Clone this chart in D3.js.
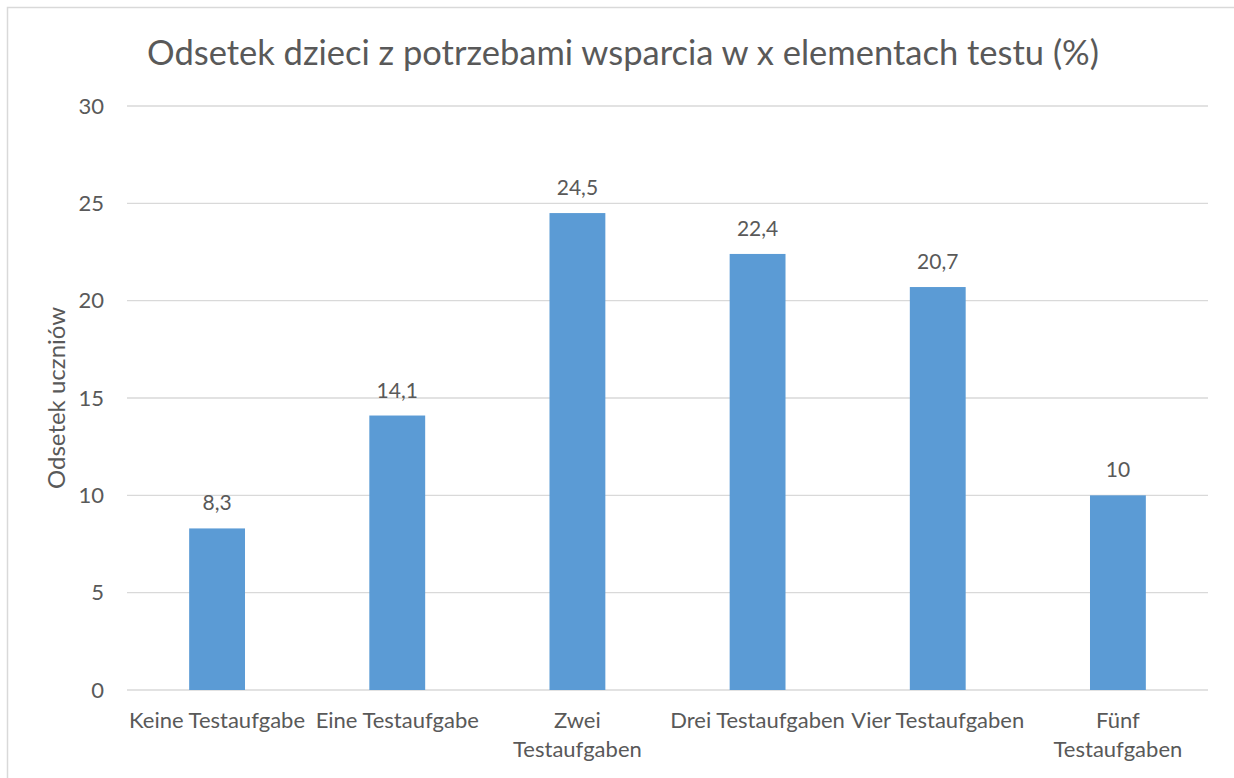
<!DOCTYPE html>
<html>
<head>
<meta charset="utf-8">
<script src="https://cdn.jsdelivr.net/npm/d3@7"></script>
<style>
  html, body { margin: 0; padding: 0; background: #fff; }
  text { font-family: Lato, "Open Sans", sans-serif; fill: #595959; }
</style>
</head>
<body>
<div id="vis"></div>
<script>
// data
const categories = ["Keine Testaufgabe", "Eine Testaufgabe", "Zwei Testaufgaben", "Drei Testaufgaben", "Vier Testaufgaben", "Fünf Testaufgaben"];
const labelLines = [["Keine Testaufgabe"], ["Eine Testaufgabe"], ["Zwei", "Testaufgaben"], ["Drei Testaufgaben"], ["Vier Testaufgaben"], ["Fünf", "Testaufgaben"]];
const values = [8.3, 14.1, 24.5, 22.4, 20.7, 10];
const valueLabels = ["8,3", "14,1", "24,5", "22,4", "20,7", "10"];
const yTicks = [0, 5, 10, 15, 20, 25, 30];

const title = "Odsetek dzieci z potrzebami wsparcia w x elementach testu (%)";
const yTitle = "Odsetek uczniów";

const width = 1234, height = 778;
const margin = { top: 106, right: 26, bottom: 88, left: 127 };

const svg = d3.select("#vis")
  .append("svg")
    .attr("width", width)
    .attr("height", height);

// chart border (only top and left visible in the crop)
svg.append("rect")
  .attr("x", 7.5).attr("y", 7.5)
  .attr("width", 1260).attr("height", 800)
  .attr("fill", "none")
  .attr("stroke", "#d9d9d9")
  .attr("stroke-width", 1.5);

const x = d3.scaleBand()
  .domain(categories)
  .range([margin.left, width - margin.right])
  .paddingInner(0.69)
  .paddingOuter(0.345);

const y = d3.scaleLinear()
  .domain([0, 30])
  .range([height - margin.bottom, margin.top]);

// gridlines
svg.append("g")
  .selectAll("line")
  .data(yTicks)
  .join("line")
    .attr("x1", margin.left)
    .attr("x2", width - margin.right)
    .attr("y1", d => y(d))
    .attr("y2", d => y(d))
    .attr("stroke", "#d9d9d9")
    .attr("stroke-width", 1.3);

// y tick labels
const yAxis = d3.axisLeft(y).tickValues(yTicks).tickSize(0).tickPadding(23);
const yg = svg.append("g")
  .attr("transform", `translate(${margin.left},0)`)
  .call(yAxis);
yg.select(".domain").remove();
yg.selectAll("text")
  .style("font-family", "Lato, sans-serif")
  .style("font-size", "22px")
  .attr("fill", "#595959");

// bars
svg.append("g")
  .selectAll("rect")
  .data(values)
  .join("rect")
    .attr("x", (d, i) => x(categories[i]))
    .attr("y", d => y(d))
    .attr("width", x.bandwidth())
    .attr("height", d => y(0) - y(d))
    .attr("fill", "#5b9bd5");

// value labels
svg.append("g")
  .selectAll("text")
  .data(values)
  .join("text")
    .attr("x", (d, i) => x(categories[i]) + x.bandwidth() / 2)
    .attr("y", d => y(d) - 18)
    .attr("text-anchor", "middle")
    .style("font-size", "21px")
    .text((d, i) => valueLabels[i]);

// category labels
const xg = svg.append("g")
  .selectAll("text")
  .data(labelLines)
  .join("text")
    .attr("x", (d, i) => x(categories[i]) + x.bandwidth() / 2)
    .attr("y", 728)
    .attr("text-anchor", "middle")
    .style("font-size", "22px");
xg.selectAll("tspan")
  .data(d => d)
  .join("tspan")
    .attr("x", function () { return this.parentNode.getAttribute("x"); })
    .attr("dy", (d, i) => i === 0 ? 0 : 29)
    .text(d => d);

// title
svg.append("text")
  .attr("x", 623)
  .attr("y", 65)
  .attr("text-anchor", "middle")
  .style("font-size", "34.5px")
  .text(title);

// y axis title
svg.append("text")
  .attr("transform", `translate(65,${(y(0) + y(30)) / 2}) rotate(-90)`)
  .attr("text-anchor", "middle")
  .style("font-size", "24px")
  .text(yTitle);
</script>
</body>
</html>
